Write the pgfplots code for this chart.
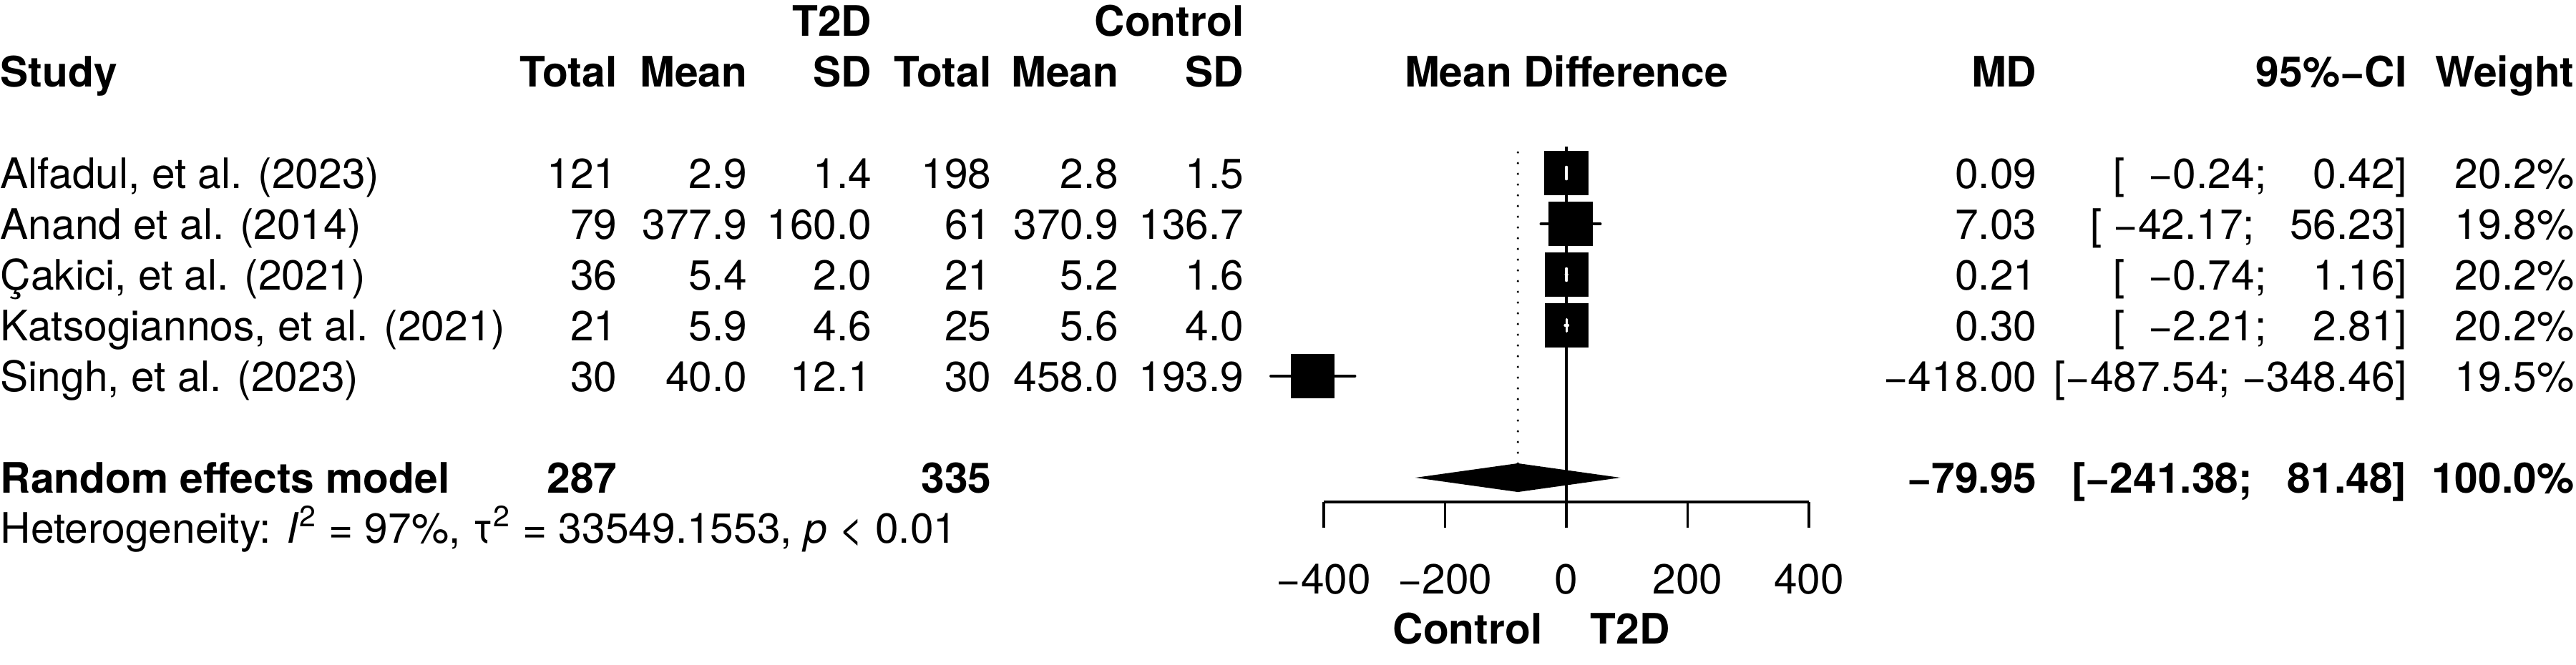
\documentclass[border=0pt]{standalone}
\usepackage{pgfplots}
\pgfplotsset{compat=1.18}
\usepackage{pgfplotstable}
\usepackage{fontspec}
\setmainfont{TeX Gyre Heros}

% row: y position in rows (Alfadul = 5 ... Singh = 1), MD and 95% CI
\pgfplotstableread{
row  md       lo       hi
5    0.09     -0.24    0.42
4    7.03     -42.17   56.23
3    0.21     -0.74    1.16
2    0.30     -2.21    2.81
1    -418.00  -487.54  -348.46
}\studies

\newcommand\pd{\hspace*{0.278em}}
\newcommand\fs{\fontsize{16.7}{20}\selectfont}

\begin{document}
\begin{tikzpicture}[
  txt/.style={inner sep=0pt, font=\fs},
  R/.style={txt, anchor=base east},
  L/.style={txt, anchor=base west}]
\useasboundingbox (0,0) rectangle (360mm,-92.9mm);

\begin{axis}[
  at={(185mm,-70.2mm)}, anchor=south west,
  scale only axis, width=67.8mm, height=49.7mm,
  xmin=-400, xmax=400, ymin=-1.479, ymax=5.521,
  axis x line*=bottom, axis y line=none,
  x axis line style={line width=1.2pt, -},
  xtick={-400,-200,0,200,400},
  xticklabels={−400,−200,0,200,400},
  tick align=outside, major tick length=3.6mm,
  tick style={line width=1pt, black},
  xticklabel style={anchor=base, inner sep=0pt, font=\fs, yshift=-9.2mm},
  clip=false, clip marker paths=true,
]
% reference line and pooled estimate line
\addplot[black, line width=1pt] coordinates {(0,-1.479) (0,5.521)};
\addplot[black, line width=0.35mm, line cap=round, dash pattern=on 0pt off 1.5mm]
  coordinates {(-79.95,-0.72) (-79.95,5.521)};
% study squares with CI
\addplot[only marks, mark=square*, mark size=3mm, mark options={draw=none, fill=black},
  error bars/.cd, x dir=both, x explicit, error mark=none,
  error bar style={line width=1pt, line cap=round, black}]
  table[x=md, y=row, x error plus expr=\thisrow{hi}-\thisrow{md},
        x error minus expr=\thisrow{md}-\thisrow{lo}] {\studies};
% parts of the lines that lie inside a square, in white
\addplot[white, line width=1pt, line cap=round, forget plot] coordinates {(0.09,4.88) (0.09,5.12)};
\addplot[white, line width=1pt, line cap=round, forget plot] coordinates {(-0.24,5) (0.42,5)};
\addplot[white, line width=1pt, line cap=round, forget plot] coordinates {(0.21,2.88) (0.21,3.12)};
\addplot[white, line width=1pt, line cap=round, forget plot] coordinates {(-0.74,3) (1.16,3)};
\addplot[white, line width=1pt, line cap=round, forget plot] coordinates {(0.30,1.88) (0.30,2.12)};
\addplot[white, line width=1pt, line cap=round, forget plot] coordinates {(-2.21,2) (2.81,2)};
% random effects diamond
\addplot[fill=black, draw=black, line width=0.5pt]
  coordinates {(-241.38,-1) (-79.95,-0.73) (81.48,-1) (-79.95,-1.27)} -- cycle;
\end{axis}

\begin{scope}[x=0.1mm, y=-0.1mm]
% headers
\node[R] at (1219,50) {\bfseries T2D};
\node[R] at (1739,50) {\bfseries Control};
\node[L] at (0,121) {\bfseries Study};
\foreach \x/\t in {863/Total,1045/Mean,1219/SD,1386/Total,1564/Mean,1739/SD,2847/MD,3364/95\%−CI,3598/Weight}
  \node[R] at (\x,121) {\bfseries \t};
\node[txt, anchor=base] at (2189,121) {\bfseries Mean Difference};

% study rows
\newcommand\studyrow[6]{%
  \node[L] at (0,#1) {#2};
  \foreach \x/\t in {#3} \node[R] at (\x,#1) {\t};
  \node[R] at (2847,#1) {#4};
  \node[R] at (3364,#1) {#5};
  \node[R] at (3598,#1) {#6};}
\studyrow{263}{Alfadul, et al. (2023)}{863/121,1045/2.9,1219/1.4,1386/198,1564/2.8,1739/1.5}{0.09}{[\pd\pd−0.24;\pd\pd\pd\pd0.42]}{20.2\%}
\studyrow{334}{Anand et al. (2014)}{863/79,1045/377.9,1219/160.0,1386/61,1564/370.9,1739/136.7}{7.03}{[\pd−42.17;\pd\pd\pd56.23]}{19.8\%}
\studyrow{405}{Çakici, et al. (2021)}{863/36,1045/5.4,1219/2.0,1386/21,1564/5.2,1739/1.6}{0.21}{[\pd\pd−0.74;\pd\pd\pd\pd1.16]}{20.2\%}
\studyrow{476}{Katsogiannos, et al. (2021)}{863/21,1045/5.9,1219/4.6,1386/25,1564/5.6,1739/4.0}{0.30}{[\pd\pd−2.21;\pd\pd\pd\pd2.81]}{20.2\%}
\studyrow{547}{Singh, et al. (2023)}{863/30,1045/40.0,1219/12.1,1386/30,1564/458.0,1739/193.9}{−418.00}{[−487.54;\pd−348.46]}{19.5\%}

% pooled
\node[L] at (0,689) {\bfseries Random effects model};
\node[R] at (863,689) {\bfseries 287};
\node[R] at (1386,689) {\bfseries 335};
\node[R] at (2847,689) {\bfseries −79.95};
\node[R] at (3364,689) {\bfseries [−241.38;\pd\pd\pd81.48]};
\node[R] at (3598,689) {\bfseries 100.0\%};
\node[L] at (0,759) {Heterogeneity: \textit{I}\textsuperscript{2}\pd=\pd97\%, τ\textsuperscript{2}\pd=\pd33549.1553, \textit{p}\pd<\pd0.01};

\node[R] at (2156,900) {\bfseries Control};
\node[L] at (2222,900) {\bfseries T2D};
\end{scope}
\end{tikzpicture}
\end{document}
